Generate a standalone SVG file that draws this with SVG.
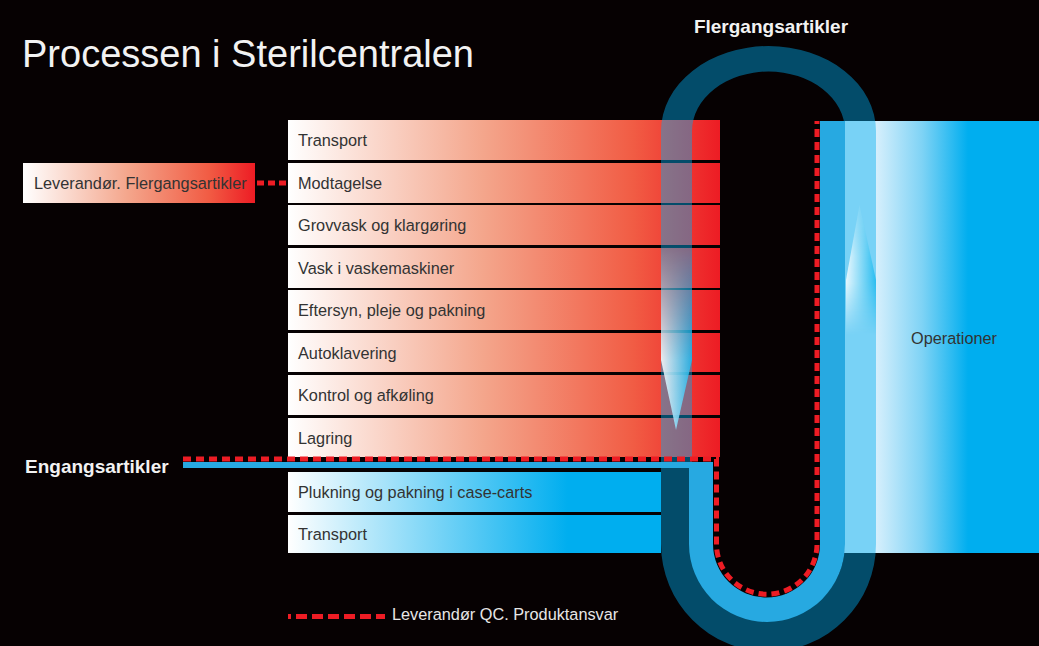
<svg xmlns="http://www.w3.org/2000/svg" width="1039" height="646" viewBox="0 0 1039 646">
  <defs>
    <style>
      .lbl { font-family: "Liberation Sans", Arial, sans-serif; font-size: 16.3px; fill: #333333; }
      .hdr { font-family: "Liberation Sans", Arial, sans-serif; font-size: 19px; font-weight: bold; fill: #f2f2f2; }
      .dash { fill: none; stroke: #ed1c24; stroke-width: 5; }
      .redrow { fill: url(#gRed); }
      .bluerow { fill: url(#gBlue); }
    </style>
    <linearGradient id="gRed" gradientUnits="userSpaceOnUse" x1="288" y1="0" x2="720" y2="0">
      <stop offset="0" stop-color="#ffffff"/>
      <stop offset="0.45" stop-color="#f4a68c"/>
      <stop offset="0.8" stop-color="#f15c44"/>
      <stop offset="1" stop-color="#ed1c24"/>
    </linearGradient>
    <linearGradient id="gRedBox" x1="0" y1="0" x2="1" y2="0">
      <stop offset="0" stop-color="#ffffff"/>
      <stop offset="0.45" stop-color="#f4a68c"/>
      <stop offset="0.8" stop-color="#f15c44"/>
      <stop offset="1" stop-color="#ed1c24"/>
    </linearGradient>
    <linearGradient id="gBlue" gradientUnits="userSpaceOnUse" x1="288" y1="0" x2="661" y2="0">
      <stop offset="0" stop-color="#ffffff"/>
      <stop offset="0.75" stop-color="#00aeef"/>
      <stop offset="1" stop-color="#00aeef"/>
    </linearGradient>
    <linearGradient id="gOp" gradientUnits="userSpaceOnUse" x1="876" y1="0" x2="968" y2="0">
      <stop offset="0" stop-color="#d6effc"/>
      <stop offset="0.5" stop-color="#7fd3f5"/>
      <stop offset="1" stop-color="#00aeef"/>
    </linearGradient>
    <linearGradient id="gArrL" gradientUnits="userSpaceOnUse" x1="661" y1="0" x2="692" y2="0">
      <stop offset="0" stop-color="#ffffff"/>
      <stop offset="1" stop-color="#1ab8ee"/>
    </linearGradient>
    <linearGradient id="gArrR" gradientUnits="userSpaceOnUse" x1="846" y1="0" x2="876" y2="0">
      <stop offset="0" stop-color="#ffffff"/>
      <stop offset="1" stop-color="#1ab8ee"/>
    </linearGradient>
    <linearGradient id="mL" gradientUnits="userSpaceOnUse" x1="0" y1="245" x2="0" y2="430">
      <stop offset="0" stop-color="#fff" stop-opacity="0"/>
      <stop offset="0.62" stop-color="#fff" stop-opacity="0.85"/>
      <stop offset="1" stop-color="#fff" stop-opacity="0.9"/>
    </linearGradient>
    <linearGradient id="mR" gradientUnits="userSpaceOnUse" x1="0" y1="205" x2="0" y2="335">
      <stop offset="0" stop-color="#fff" stop-opacity="0.3"/>
      <stop offset="0.4" stop-color="#fff" stop-opacity="0.85"/>
      <stop offset="0.6" stop-color="#fff" stop-opacity="0.8"/>
      <stop offset="1" stop-color="#fff" stop-opacity="0"/>
    </linearGradient>
    <mask id="maskL" maskUnits="userSpaceOnUse" x="0" y="0" width="1039" height="646">
      <rect x="640" y="240" width="80" height="200" fill="url(#mL)"/>
    </mask>
    <mask id="maskR" maskUnits="userSpaceOnUse" x="0" y="0" width="1039" height="646">
      <rect x="830" y="200" width="60" height="140" fill="url(#mR)"/>
    </mask>
  </defs>

  <rect x="0" y="0" width="1039" height="646" fill="#060102"/>

  <g id="title">
    <text x="22" y="67" font-family="'Liberation Sans', Arial, sans-serif" font-size="38" fill="#f2f2f2">Processen i Sterilcentralen</text>
  </g>

  <g id="header-flergangsartikler">
    <text class="hdr" x="771" y="33" text-anchor="middle">Flergangsartikler</text>
  </g>
  <g id="header-engangsartikler">
    <text class="hdr" x="25" y="473">Engangsartikler</text>
  </g>

  <g id="operationer">
    <rect x="821" y="121" width="218" height="432" fill="url(#gOp)"/>
    <text class="lbl" x="911" y="344">Operationer</text>
  </g>

  <g id="leverandor-flergangsartikler">
    <rect x="23" y="163" width="232" height="40" fill="url(#gRedBox)"/>
    <text class="lbl" x="34" y="189">Leverandør. Flergangsartikler</text>
  </g>

  <g id="step-transport-1"><rect class="redrow" x="288" y="120" width="432" height="40"/><text class="lbl" x="298" y="146">Transport</text></g>
  <g id="step-modtagelse"><rect class="redrow" x="288" y="163" width="432" height="40"/><text class="lbl" x="298" y="189">Modtagelse</text></g>
  <g id="step-grovvask"><rect class="redrow" x="288" y="205" width="432" height="40"/><text class="lbl" x="298" y="231">Grovvask og klargøring</text></g>
  <g id="step-vask"><rect class="redrow" x="288" y="248" width="432" height="40"/><text class="lbl" x="298" y="274">Vask i vaskemaskiner</text></g>
  <g id="step-eftersyn"><rect class="redrow" x="288" y="290" width="432" height="40"/><text class="lbl" x="298" y="316">Eftersyn, pleje og pakning</text></g>
  <g id="step-autoklavering"><rect class="redrow" x="288" y="333" width="432" height="39"/><text class="lbl" x="298" y="359">Autoklavering</text></g>
  <g id="step-kontrol"><rect class="redrow" x="288" y="375" width="432" height="40"/><text class="lbl" x="298" y="401">Kontrol og afkøling</text></g>
  <g id="step-lagring"><rect class="redrow" x="288" y="418" width="432" height="39"/><text class="lbl" x="298" y="444">Lagring</text></g>
  <g id="step-plukning"><rect class="bluerow" x="288" y="472" width="373" height="40"/><text class="lbl" x="298" y="498">Plukning og pakning i case-carts</text></g>
  <g id="step-transport-2"><rect class="bluerow" x="288" y="515" width="373" height="38"/><text class="lbl" x="298" y="540">Transport</text></g>

  <g id="flow-tubes">
    <path fill="#00aeef" fill-opacity="0.44" fill-rule="evenodd"
      d="M661,544 V131 A107.5,85 0 0 1 876,131 V544 A107.5,107.5 0 0 1 661,544 Z
         M692,544 V131 A76.5,59.5 0 0 1 845,131 V544 A76.5,76.5 0 0 1 692,544 Z"/>
    <path fill="#27a9e1"
      d="M183,462 H713 V544 A53.5,53.5 0 0 0 820,544 V121 H845 V544 A78,78 0 0 1 689,544 V468 H183 Z"/>
    <path fill="url(#gArrL)" mask="url(#maskL)" d="M661,240 H692 V360 L676,430 L661,360 Z"/>
    <path fill="url(#gArrR)" mask="url(#maskR)" d="M859.5,205 L876,280 V340 H846 V280 Z"/>
  </g>

  <g id="connectors">
    <path class="dash" stroke-dasharray="8 5" d="M183,459 H716.5 V544 A50.25,50.25 0 0 0 817,544 V121"/>
    <path class="dash" stroke-dasharray="7 4" d="M257,183 H288"/>
  </g>

  <g id="legend">
    <path class="dash" stroke-dasharray="11 5" stroke-dashoffset="8" d="M288,616.5 H385"/>
    <text x="392" y="620" font-family="'Liberation Sans', Arial, sans-serif" font-size="16.3" fill="#e6e6e6">Leverandør QC. Produktansvar</text>
  </g>
</svg>
